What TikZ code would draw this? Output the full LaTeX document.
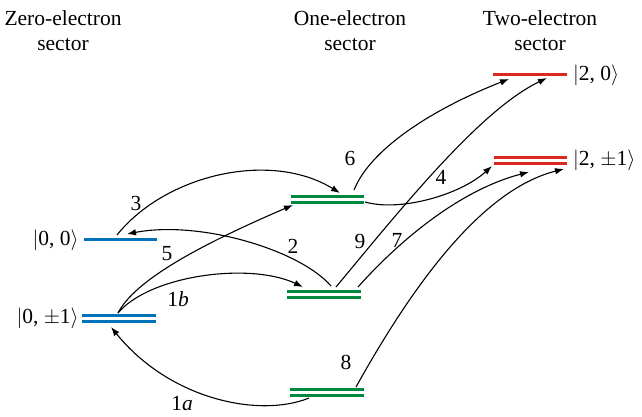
\documentclass[tikz,border=0pt]{standalone}
\usepackage{fontspec}
\setmainfont{Liberation Serif}
\newfontfamily\tmsfont{Liberation Serif}
\usetikzlibrary{arrows.meta}
\definecolor{lvblue}{RGB}{0,114,188}
\definecolor{lvgreen}{RGB}{0,137,62}
\definecolor{lvred}{RGB}{218,41,28}
\tikzset{
  txt/.style={inner sep=0pt,font=\tmsfont\fontsize{21.5}{25}\selectfont},
  hdr/.style={txt,align=center},
  lvl/.style={line width=3pt},
  conn/.style={line width=1.1pt,-{Latex[length=9pt,width=6.5pt]}},
}
\begin{document}
\begin{tikzpicture}[x=1pt,y=-1pt]
\useasboundingbox (0,0) rectangle (642,416);
% headers
\node[hdr] (h0) at (63,31) {Zero-electron\\sector};
\node[hdr] (h1) at (350,31) {One-electron\\sector};
\node[hdr] (h2) at (540,31) {Two-electron\\sector};
% levels
\draw[lvl,lvblue] (84,239) -- (157,239);
\draw[lvl,lvblue] (82,315) -- (156,315) (82,321) -- (156,321);
\draw[lvl,lvgreen] (291,196) -- (364,196) (291,202) -- (364,202);
\draw[lvl,lvgreen] (287,291) -- (361,291) (287,297) -- (361,297);
\draw[lvl,lvgreen] (290,389) -- (364,389) (290,395) -- (364,395);
\draw[lvl,lvred] (493,74) -- (567,74);
\draw[lvl,lvred] (494,157) -- (567,157) (494,163) -- (567,163);
% state labels
\node[txt,anchor=east] (s00) at (79,240) {$|$0, 0$\rangle$};
\node[txt,anchor=east] (s01) at (79,318) {$|$0, $\pm$1$\rangle$};
\node[txt,anchor=west] (s20) at (573,75) {$|$2, 0$\rangle$};
\node[txt,anchor=west] (s21) at (573,160) {$|$2, $\pm$1$\rangle$};
% endpoints
\coordinate (a00) at (117,235);
\coordinate (a00in) at (127,234);
\coordinate (a01) at (118,313);
\coordinate (a01in) at (111,327);
\coordinate (u6) at (354,190);
\coordinate (u4) at (365,202);
\coordinate (u3in) at (340,193);
\coordinate (u5in) at (293,205);
\coordinate (m2) at (331,286);
\coordinate (m9) at (336,287);
\coordinate (m7) at (358,287);
\coordinate (m1bin) at (303,287);
\coordinate (l8) at (356,387);
\coordinate (l1a) at (309,398);
\coordinate (t6in) at (509,79);
\coordinate (t9in) at (547,78);
\coordinate (p4in) at (492,166);
\coordinate (p7in) at (529,172);
\coordinate (p8in) at (564,169);
% connectors
\draw[conn] (a00) .. controls (165,175) and (270,150) .. (u3in);
\draw[conn] (a01) .. controls (135,280) and (200,245) .. (u5in);
\draw[conn] (a01) .. controls (150,275) and (250,262) .. (m1bin);
\draw[conn] (m2) .. controls (300,250) and (200,220) .. (a00in);
\draw[conn] (u6) .. controls (370,150) and (430,110) .. (t6in);
\draw[conn] (m9) .. controls (400,210) and (480,110) .. (t9in);
\draw[conn] (u4) .. controls (400,212) and (460,195) .. (p4in);
\draw[conn] (m7) .. controls (400,240) and (460,190) .. (p7in);
\draw[conn] (l8) .. controls (410,290) and (480,190) .. (p8in);
\draw[conn] (l1a) .. controls (260,418) and (170,400) .. (a01in);
% connector labels
\node[txt] (n3) at (136,203) {3};
\node[txt] (n5) at (167,254) {5};
\node[txt] (n1b) at (178,299) {1\textit{b}};
\node[txt] (n2) at (293,246) {2};
\node[txt] (n6) at (350,158) {6};
\node[txt] (n9) at (360,241) {9};
\node[txt] (n7) at (397,240) {7};
\node[txt] (n4) at (441,177) {4};
\node[txt] (n8) at (346,362) {8};
\node[txt] (n1a) at (182,404) {1\textit{a}};
\end{tikzpicture}
\end{document}
